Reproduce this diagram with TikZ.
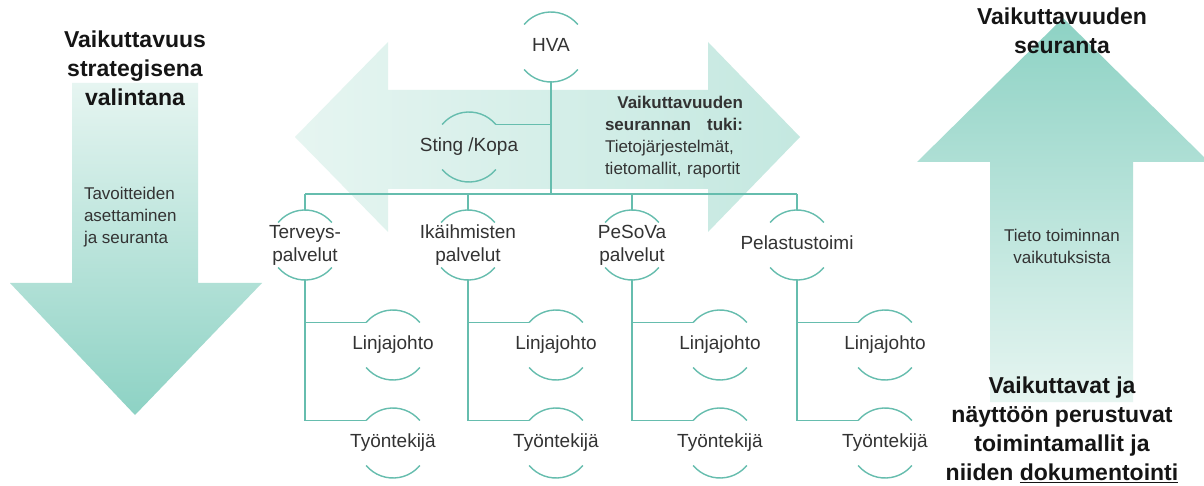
\documentclass[tikz,border=0pt]{standalone}
\usepackage{fontspec}
\setmainfont{Liberation Sans}
\definecolor{teal1}{HTML}{66BDAE}
\definecolor{arrdark}{HTML}{8DD2C4}
\definecolor{arrcenter}{HTML}{86CEC0}
\definecolor{arrlight}{HTML}{E6F5F1}
\definecolor{arrmid}{HTML}{C4E8E0}
\definecolor{txt}{HTML}{333333}
\definecolor{ttl}{HTML}{151515}
\newcommand\ctext[1]{\makebox[0pt]{\begin{tabular}{@{}c@{}}#1\end{tabular}}}
\newcommand\orgarcs[1]{%
  \draw[arcline] (#1.40) arc[start angle=40,end angle=140,radius=35pt];
  \draw[arcline] (#1.220) arc[start angle=220,end angle=320,radius=35pt];}
\begin{document}
\begin{tikzpicture}[x=1pt,y=1pt,
  every node/.style={text=txt, inner sep=0pt, outer sep=0pt},
  ln/.style={draw=teal1, line width=1.4pt},
  arcline/.style={draw=teal1, line width=1.4pt},
  orgnode/.style={circle, minimum size=70pt, inner sep=0pt, outer sep=0pt,
    font=\fontsize{19}{23}\selectfont},
  titletext/.style={align=center, text=ttl, font=\bfseries\fontsize{23}{29}\selectfont},
  smalltext/.style={font=\fontsize{17}{22}\selectfont}]
\fill[white] (0,0) rectangle (1204,485);
\useasboundingbox (0,0) rectangle (1204,485);
% big arrows
\shade[top color=arrlight, bottom color=arrdark]
  (72,402) -- (198,402) -- (198,202) -- (262,202) -- (135,70) -- (10,202) -- (72,202) -- cycle;
\shade[left color=arrlight, middle color=arrcenter, right color=arrmid]
  (295,348) -- (388,443) -- (388,395) -- (708,395) -- (708,443) -- (800,348)
  -- (708,253) -- (708,296) -- (388,296) -- (388,253) -- cycle;
\shade[top color=arrdark, bottom color=arrlight]
  (1063,467) -- (1209,323) -- (1133,323) -- (1133,83) -- (990,83) -- (990,323) -- (917,323) -- cycle;
% side texts
\node[titletext] (t1) at (135,417) {Vaikuttavuus\\strategisena\\valintana};
\node[smalltext, align=left, anchor=west] (t2) at (84,268) {Tavoitteiden\\asettaminen\\ja seuranta};
\node[titletext] (t3) at (1062,454) {Vaikuttavuuden\\seuranta};
\node[smalltext, align=center] (t4) at (1062,239) {Tieto toiminnan\\vaikutuksista};
\node[titletext] (t5) at (1062,55) {Vaikuttavat ja\\näyttöön perustuvat\\toimintamallit ja\\niiden \underline{dokumentointi}};
\node[smalltext, text width=138pt, align=left] (tuki) at (674,348)
  {\hspace*{\fill}\textbf{Vaikuttavuuden}\\\textbf{seurannan}\hfill\textbf{tuki:}\\Tietojärjestelmät,\\tietomallit, raportit};
% org nodes
\node[orgnode] (hva) at (551,438) {\ctext{HVA}};
\node[orgnode] (sting) at (469,338) {\ctext{Sting /Kopa}};
\node[orgnode] (ter) at (305,240) {\ctext{Terveys-\\palvelut}};
\node[orgnode] (ika) at (468,240) {\ctext{Ikäihmisten\\palvelut}};
\node[orgnode] (pes) at (632,240) {\ctext{PeSoVa\\palvelut}};
\node[orgnode] (pel) at (797,240) {\ctext{Pelastustoimi}};
\node[orgnode] (l1) at (393,140) {\ctext{Linjajohto}};
\node[orgnode] (l2) at (556,140) {\ctext{Linjajohto}};
\node[orgnode] (l3) at (720,140) {\ctext{Linjajohto}};
\node[orgnode] (l4) at (885,140) {\ctext{Linjajohto}};
\node[orgnode] (w1) at (393,42) {\ctext{Työntekijä}};
\node[orgnode] (w2) at (556,42) {\ctext{Työntekijä}};
\node[orgnode] (w3) at (720,42) {\ctext{Työntekijä}};
\node[orgnode] (w4) at (885,42) {\ctext{Työntekijä}};
\foreach \n in {hva,sting,ter,ika,pes,pel,l1,l2,l3,l4,w1,w2,w3,w4} {\orgarcs{\n}}
% connectors
\coordinate (bus) at (551,291);
\draw[ln] (hva.south) -- (hva.south |- bus);
\draw[ln] (sting.40) -- (sting.40 -| hva.south);
\draw[ln] (bus -| ter.north) -- (bus -| pel.north);
\foreach \n in {ter,ika,pes,pel} {\draw[ln] (bus -| \n.north) -- (\n.north);}
\foreach \p/\l/\w in {ter/l1/w1, ika/l2/w2, pes/l3/w3, pel/l4/w4} {
  \draw[ln] (\p.south) |- (\l.140);
  \draw[ln] (\p.south) |- (\w.140);
}
\end{tikzpicture}
\end{document}
